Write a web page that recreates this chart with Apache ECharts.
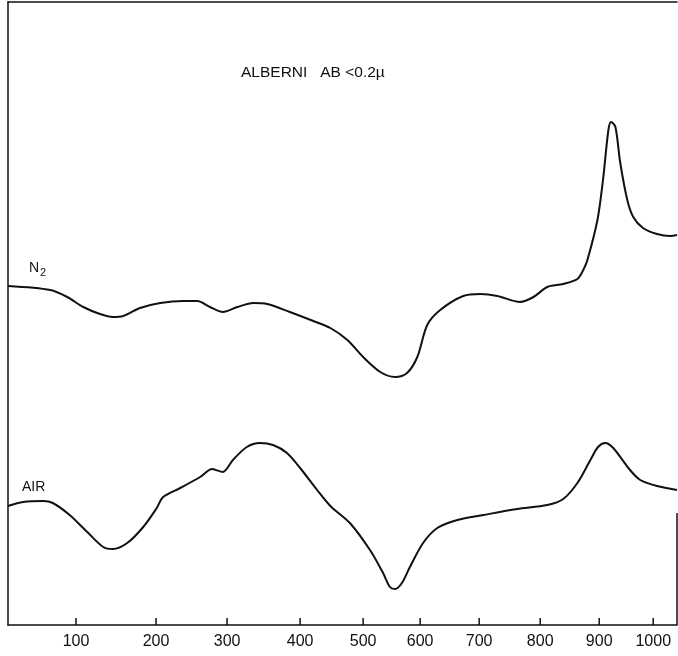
<!DOCTYPE html>
<html>
<head>
<meta charset="utf-8">
<script src="https://cdn.jsdelivr.net/npm/echarts@6/dist/echarts.min.js"></script>
<style>
html,body{margin:0;padding:0;background:#fff;}
#chart{width:678px;height:656px;}
</style>
</head>
<body>
<div id="chart"></div>
<script>
// Temperature scale of the recorder chart (non-uniform): tick temperatures and their chart distance
var tickTemps = [100, 200, 300, 400, 500, 600, 700, 800, 900, 1000];
var tickDist  = [0, 80, 151, 224, 287, 344, 403, 464, 523, 577];

// N2 curve: temperature (°C) and deflection (arbitrary units)
var n2Temp = [15, 68, 89, 109, 130, 146, 159, 180, 206, 238, 258, 276, 294, 314, 336, 355, 386, 421, 448, 475, 500, 530, 556, 577, 595, 612, 634, 673, 702, 730, 767, 789, 812, 839, 863, 873, 880, 897, 907, 917, 922, 930, 939, 952, 963, 981, 1007, 1031, 1044];
var n2Val  = [339, 335, 328, 318, 311, 308, 309, 317, 322, 324, 324, 318, 313, 318, 322, 321, 313, 304, 297, 285, 268, 253, 248, 252, 268, 300, 315, 329, 331, 329, 323, 328, 338, 341, 346, 355, 365, 405, 445, 495, 503, 498, 462, 425, 408, 397, 391, 389, 390];

// AIR curve
var airTemp = [15, 34, 59, 71, 92, 114, 134, 146, 164, 184, 201, 210, 234, 262, 279, 294, 308, 327, 345, 363, 382, 400, 427, 448, 479, 512, 535, 547, 556, 568, 582, 605, 629, 663, 707, 762, 812, 839, 863, 885, 898, 911, 926, 957, 976, 1007, 1044];
var airVal  = [119, 123, 124, 122, 110, 93, 78, 76, 82, 98, 117, 128, 137, 148, 156, 153, 165, 178, 182, 180, 172, 157, 135, 119, 102, 75, 52, 38, 36, 42, 58, 82, 97, 105, 110, 116, 120, 126, 142, 165, 178, 182, 177, 155, 145, 139, 135];

var tempMin = 15, tempMax = 1044;
var titleText = 'ALBERNI   AB <0.2\u00B5';

function tempToDist(t) {
  var n = tickTemps.length;
  if (t <= tickTemps[0]) {
    var s0 = (tickDist[1] - tickDist[0]) / (tickTemps[1] - tickTemps[0]);
    return tickDist[0] + (t - tickTemps[0]) * s0;
  }
  if (t >= tickTemps[n - 1]) {
    var s1 = (tickDist[n - 1] - tickDist[n - 2]) / (tickTemps[n - 1] - tickTemps[n - 2]);
    return tickDist[n - 1] + (t - tickTemps[n - 1]) * s1;
  }
  for (var i = 0; i < n - 1; i++) {
    if (t >= tickTemps[i] && t <= tickTemps[i + 1]) {
      var f = (t - tickTemps[i]) / (tickTemps[i + 1] - tickTemps[i]);
      return tickDist[i] + f * (tickDist[i + 1] - tickDist[i]);
    }
  }
}
function toSeries(ts, vs) {
  return ts.map(function (t, i) { return [tempToDist(t), vs[i]]; });
}
var xMin = tempToDist(tempMin), xMax = tempToDist(tempMax);

var chart = echarts.init(document.getElementById('chart'), null, {renderer: 'canvas'});
var font = 'Liberation Sans, Arial, sans-serif';
var option = {
  animation: false,
  backgroundColor: '#fff',
  grid: {left: 8, right: 1, top: 2, bottom: 31},
  title: {
    text: titleText,
    left: 236, top: 60,
    textStyle: {fontFamily: font, fontSize: 15.5, fontWeight: 'normal', color: '#111'}
  },
  graphic: [
    {type: 'text', left: 29, top: 261, style: {
      text: '{a|N}{b|2}',
      rich: {a: {fontFamily: font, fontSize: 14, fill: '#111'},
             b: {fontFamily: font, fontSize: 11, fill: '#111', padding: [9, 0, 0, 1]}}
    }},
    {type: 'text', left: 22, top: 480, style: {text: 'AIR', fontFamily: font, fontSize: 14, fill: '#111'}}
  ],
  xAxis: [{
    type: 'value', min: xMin, max: xMax, position: 'bottom',
    splitLine: {show: false},
    axisLine: {show: true, onZero: false, lineStyle: {color: '#111', width: 1.5}},
    axisTick: {show: false},
    axisLabel: {
      show: true, customValues: tickDist, margin: 9,
      fontFamily: font, fontSize: 16, color: '#111',
      formatter: function (v) {
        for (var i = 0; i < tickDist.length; i++) {
          if (Math.abs(tickDist[i] - v) < 0.01) return String(tickTemps[i]);
        }
        return '';
      }
    }
  }, {
    type: 'value', min: xMin, max: xMax, position: 'top',
    splitLine: {show: false},
    axisLine: {show: true, onZero: false, lineStyle: {color: '#111', width: 1.5}},
    axisTick: {show: false}, axisLabel: {show: false}
  }],
  yAxis: {
    type: 'value', min: 0, max: 623,
    splitLine: {show: false},
    axisLine: {show: true, onZero: false, lineStyle: {color: '#111', width: 1.5}},
    axisTick: {show: false}, axisLabel: {show: false}
  },
  series: [{
    name: 'N2', type: 'line', smooth: 0.3, symbol: 'none',
    data: toSeries(n2Temp, n2Val),
    lineStyle: {color: '#111', width: 2}
  }, {
    name: 'AIR', type: 'line', smooth: 0.3, symbol: 'none',
    data: toSeries(airTemp, airVal),
    lineStyle: {color: '#111', width: 2},
    markLine: {
      silent: true, symbol: 'none', label: {show: false},
      lineStyle: {color: '#111', width: 1.5, type: 'solid'},
      data: [[{coord: [xMax, 0]}, {coord: [xMax, 112]}]]
    }
  }, {
    name: 'ticks', type: 'custom', silent: true, clip: false,
    data: tickDist.map(function (d) { return [d, 0]; }),
    renderItem: function (params, api) {
      var p = api.coord([api.value(0), 0]);
      return {type: 'line', shape: {x1: p[0], y1: p[1], x2: p[0], y2: p[1] - 7},
              style: {stroke: '#111', lineWidth: 1.5}};
    }
  }]
};
chart.setOption(option);
</script>
</body>
</html>
